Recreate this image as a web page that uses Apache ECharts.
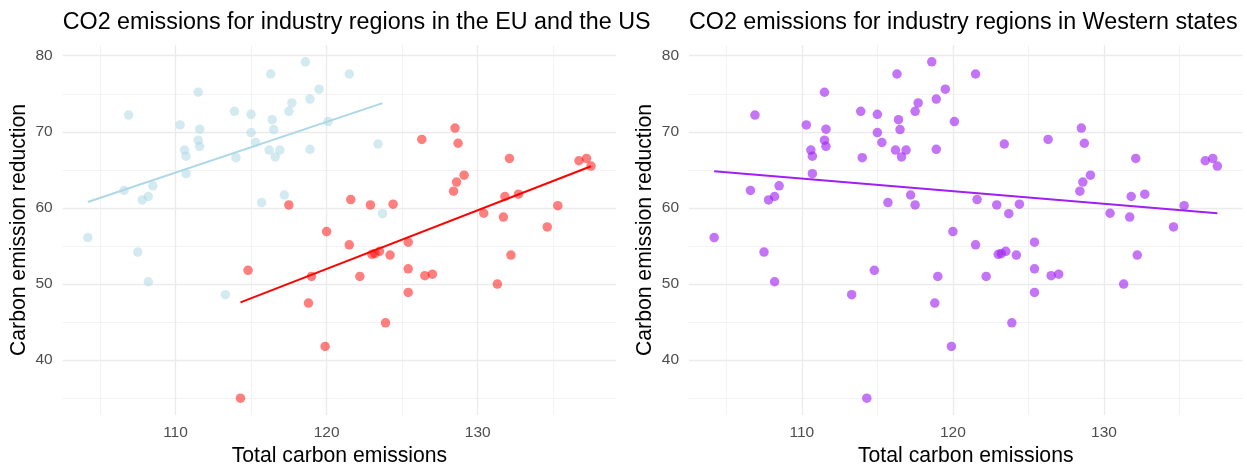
<!DOCTYPE html>
<html><head><meta charset="utf-8">
<script src="https://cdn.jsdelivr.net/npm/echarts@6/dist/echarts.min.js"></script>
<style>html,body{margin:0;padding:0;background:#fff}#c{width:1247px;height:467px}</style>
</head><body><div id="c"></div>
<script>
// Light blue group
const blueX = [104.2,106.6,106.9,107.5,107.8,108.2,108.2,108.5,110.3,110.6,110.7,110.7,111.5,111.6,111.5,111.6,113.3,113.9,114.0,115.0,115.0,115.3,115.7,116.2,116.3,116.4,116.5,116.6,116.9,117.2,117.5,117.7,118.6,118.9,118.9,119.5,120.1,121.5,123.4,123.7];
const blueY = [56.1,62.3,72.2,54.2,61.05,61.5,50.3,62.9,70.9,67.6,66.8,64.5,75.2,70.35,68.9,68.1,48.6,72.7,66.6,72.3,69.9,68.6,60.7,67.6,77.6,71.6,70.3,66.7,67.6,61.7,72.7,73.8,79.2,74.3,67.7,75.6,71.35,77.6,68.4,59.25];
// Red group
const redX = [114.3,114.8,117.5,118.8,119.0,119.9,120.0,121.5,121.6,122.2,122.9,123.0,123.2,123.5,123.9,124.2,124.4,125.4,125.4,125.4,126.3,126.5,127.0,128.4,128.5,128.6,128.7,129.1,130.4,131.3,131.7,131.8,132.1,132.2,132.7,134.6,135.3,136.7,137.2,137.5];
const redY = [35.0,51.8,60.4,47.5,51.0,41.8,56.9,55.15,61.1,51.0,60.4,53.9,54.0,54.3,44.9,53.8,60.5,55.5,52.0,48.9,69.0,51.1,51.3,62.2,70.5,63.4,68.5,64.3,59.3,50.0,58.8,61.5,66.5,53.8,61.8,57.5,60.3,66.2,66.5,65.5];

const titles = ['CO2 emissions for industry regions in the EU and the US', 'CO2 emissions for industry regions in Western states'];
const xTitle = 'Total carbon emissions';
const yTitle = 'Carbon emission reduction';
const xTickLabels = [110, 120, 130];
const yTickLabels = [40, 50, 60, 70, 80];
const xMinorTicks = [105, 115, 125, 135];
const yMinorTicks = [35, 45, 55, 65, 75];

const allX = blueX.concat(redX);
const allY = blueY.concat(redY);

function pairs(xs, ys) { return xs.map((x, i) => [x, ys[i]]); }
function fit(xs, ys) {
  const n = xs.length;
  const mx = xs.reduce((a, b) => a + b, 0) / n;
  const my = ys.reduce((a, b) => a + b, 0) / n;
  let sxy = 0, sxx = 0;
  for (let i = 0; i < n; i++) { sxy += (xs[i] - mx) * (ys[i] - my); sxx += (xs[i] - mx) ** 2; }
  const b = sxy / sxx, a = my - b * mx;
  const x0 = Math.min(...xs), x1 = Math.max(...xs);
  return [[x0, a + b * x0], [x1, a + b * x1]];
}
function expand(vals) {
  const lo = Math.min(...vals), hi = Math.max(...vals), r = hi - lo;
  return [lo - 0.05 * r, hi + 0.05 * r];
}
const xr = expand(allX), yr = expand(allY);

const GRID_TOP = 45, GRID_H = 370, GRID_W = 553.5;
const lefts = [62.7, 689];
const font = 'Liberation Sans, Arial, sans-serif';

function xAxisDef(i) {
  return {
    gridIndex: i, type: 'value', min: xr[0], max: xr[1],
    axisLine: {show: false}, axisTick: {show: false}, splitLine: {show: false},
    axisLabel: {color: '#4d4d4d', fontSize: 15.5, fontFamily: font, margin: 10,
      formatter: v => xTickLabels.some(t => Math.abs(t - v) < 1e-6) ? String(v) : ''},
    name: xTitle, nameLocation: 'middle', nameGap: 30,
    nameTextStyle: {color: '#000', fontSize: 21.2, fontFamily: font}
  };
}
function yAxisDef(i) {
  return {
    gridIndex: i, type: 'value', min: yr[0], max: yr[1],
    axisLine: {show: false}, axisTick: {show: false}, splitLine: {show: false},
    axisLabel: {color: '#4d4d4d', fontSize: 15.5, fontFamily: font, margin: 10,
      formatter: v => yTickLabels.some(t => Math.abs(t - v) < 1e-6) ? String(v) : ''},
    name: yTitle, nameLocation: 'middle', nameGap: 33,
    nameTextStyle: {color: '#000', fontSize: 21.2, fontFamily: font}
  };
}
function gridLines(i) {
  const major = {color: '#ebebeb', width: 1.3, type: 'solid'};
  const minor = {color: '#f0f0f0', width: 0.8, type: 'solid'};
  return {
    type: 'scatter', xAxisIndex: i, yAxisIndex: i, data: [], z: 0, silent: true,
    markLine: {
      z: 0, silent: true, symbol: ['none', 'none'], animation: false, label: {show: false},
      emphasis: {disabled: true},
      data: [].concat(
        xMinorTicks.map(v => ({xAxis: v, lineStyle: minor})),
        yMinorTicks.map(v => ({yAxis: v, lineStyle: minor})),
        xTickLabels.map(v => ({xAxis: v, lineStyle: major})),
        yTickLabels.map(v => ({yAxis: v, lineStyle: major}))
      )
    }
  };
}
function pts(i, xs, ys, color) {
  return {type: 'scatter', xAxisIndex: i, yAxisIndex: i, data: pairs(xs, ys), symbolSize: 9.5,
    itemStyle: {color: color}, z: 3, silent: true, animation: false};
}
function line(i, xs, ys, color) {
  return {type: 'line', xAxisIndex: i, yAxisIndex: i, data: fit(xs, ys), showSymbol: false, symbol: 'none',
    lineStyle: {color: color, width: 2}, z: 4, silent: true, animation: false};
}

const chart = echarts.init(document.getElementById('c'), null, {renderer: 'canvas'});
chart.setOption({
  backgroundColor: '#fff',
  animation: false,
  title: titles.map((t, i) => ({text: t, left: lefts[i], top: 11, padding: 0,
    textStyle: {color: '#000', fontSize: 23.3, fontWeight: 'normal', fontFamily: font}})),
  grid: lefts.map(l => ({left: l, top: GRID_TOP, width: GRID_W, height: GRID_H, containLabel: false, outerBoundsMode: 'none'})),
  xAxis: [xAxisDef(0), xAxisDef(1)],
  yAxis: [yAxisDef(0), yAxisDef(1)],
  series: [
    gridLines(0), gridLines(1),
    pts(0, blueX, blueY, 'rgba(173,216,230,0.68)'),
    pts(0, redX, redY, 'rgba(255,0,0,0.63)'),
    line(0, blueX, blueY, '#ADD8E6'),
    line(0, redX, redY, '#FF0000'),
    pts(1, allX, allY, 'rgba(160,32,240,0.78)'),
    line(1, allX, allY, '#A020F0')
  ]
});
</script></body></html>
